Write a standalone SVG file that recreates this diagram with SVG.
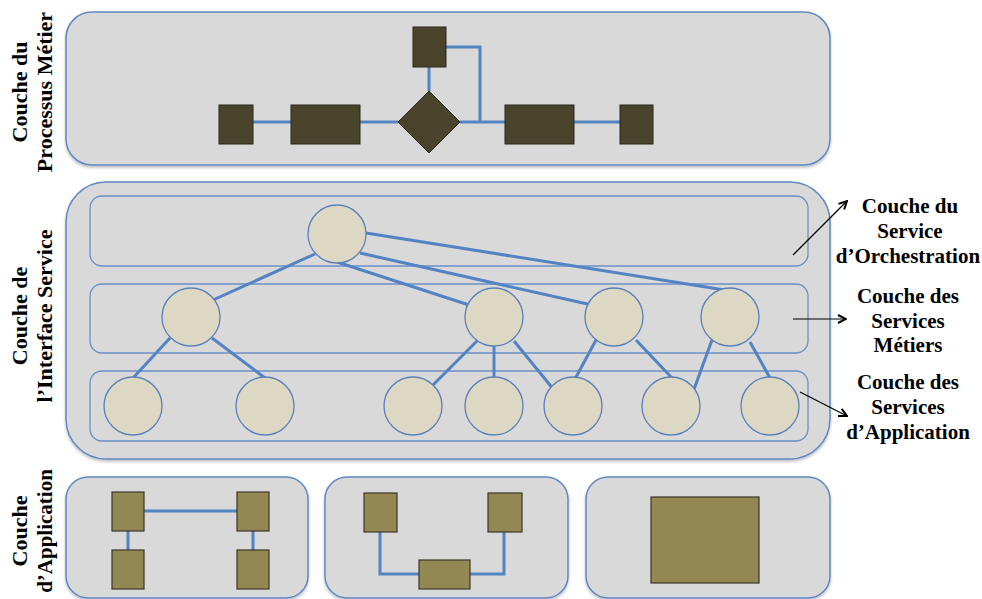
<svg xmlns="http://www.w3.org/2000/svg" width="982" height="599" viewBox="0 0 982 599">
<defs>
<style>
.panel{fill:#d9d9d9;stroke:#5f88c2;stroke-width:1.5}
.band{fill:none;stroke:#6b90c6;stroke-width:1.3}
.dark{fill:#4a432c;stroke:#2b2719;stroke-width:1}
.olive{fill:#938753;stroke:#3b3627;stroke-width:1.2}
.svc{fill:#ddd8c3;stroke:#5a80ba;stroke-width:1.3}
.link{fill:none;stroke:#5483c4;stroke-width:3}
.ptr{fill:none;stroke:#000;stroke-width:1.2}
.lbl{font-family:"Liberation Serif","Times New Roman",serif;font-weight:bold;font-size:21px;fill:#000;text-anchor:middle}
.side{font-family:"Liberation Serif","Times New Roman",serif;font-weight:bold;font-size:22px;fill:#000;text-anchor:middle}
</style>
<filter id="sh" x="-5%" y="-5%" width="110%" height="115%">
<feDropShadow dx="0" dy="2" stdDeviation="1.5" flood-color="#000" flood-opacity="0.25"/>
</filter>
<marker id="ah" viewBox="0 0 10 10" refX="9" refY="5" markerWidth="10" markerHeight="10" markerUnits="userSpaceOnUse" orient="auto">
<path d="M1,1 L9,5 L1,9" fill="none" stroke="#000" stroke-width="2"/>
</marker>
</defs>
<rect width="982" height="599" fill="#fff"/>

<!-- Side labels -->
<g id="label-processus">
<text class="side" transform="translate(27,92) rotate(-90)">Couche du</text>
<text class="side" transform="translate(52,92) rotate(-90)">Processus Métier</text>
</g>
<g id="label-interface">
<text class="side" transform="translate(27,316) rotate(-90)">Couche de</text>
<text class="side" transform="translate(52,316) rotate(-90)">l’Interface Service</text>
</g>
<g id="label-application">
<text class="side" transform="translate(27,531) rotate(-90)">Couche</text>
<text class="side" style="font-size:21px" transform="translate(52,531) rotate(-90)">d’Application</text>
</g>

<!-- Business process layer -->
<g id="panel-process">
<rect class="panel" filter="url(#sh)" x="66" y="12" width="764" height="153" rx="26"/>
</g>

<!-- Service interface layer -->
<g id="panel-interface">
<rect class="panel" filter="url(#sh)" x="66" y="182" width="764" height="277" rx="40"/>
<rect class="band" x="90" y="196" width="718" height="70" rx="12"/>
<rect class="band" x="90" y="284" width="718" height="69" rx="12"/>
<rect class="band" x="90" y="371" width="718" height="70" rx="12"/>
</g>

<!-- Application layer panels -->
<g id="panel-app1"><rect class="panel" filter="url(#sh)" x="66" y="477" width="242" height="121" rx="22"/></g>
<g id="panel-app2"><rect class="panel" filter="url(#sh)" x="325" y="477" width="243" height="121" rx="22"/></g>
<g id="panel-app3"><rect class="panel" filter="url(#sh)" x="586" y="477" width="244" height="121" rx="22"/></g>

<!-- Connectors -->
<g id="connectors">
<!-- process -->
<path class="link" d="M253,122 H291 M360,122 H398 M460,122 H505 M574,122 H620 M429,67 V91 M446,47 H480 V122"/>
<!-- orchestration to business -->
<path class="link" d="M315,254 L213,300"/>
<path class="link" d="M366,233 L731,291"/>
<path class="link" d="M360,253 L592,305"/>
<path class="link" d="M337,262 L469,305"/>
<!-- business to application -->
<path class="link" d="M170,338 L133,378"/>
<path class="link" d="M212,338 L265,378"/>
<path class="link" d="M478,340 L433,385"/>
<path class="link" d="M494,345 V378"/>
<path class="link" d="M514,341 L554,390"/>
<path class="link" d="M596,340 L575,379"/>
<path class="link" d="M636,340 L672,378"/>
<path class="link" d="M712,340 L693,392"/>
<path class="link" d="M750,342 L770,378"/>
<!-- application panels -->
<path class="link" d="M144,511 H237 M128,531 V550 M253,531 V550"/>
<path class="link" d="M380,532 V574 H419 M470,574 H504 V532"/>
<!-- pointer arrows -->
<path class="ptr" marker-end="url(#ah)" d="M793,255 L847,201"/>
<path class="ptr" marker-end="url(#ah)" d="M793,319 L846,319"/>
<path class="ptr" marker-end="url(#ah)" d="M800,392 L847,416"/>
</g>

<!-- Process nodes -->
<g id="p-start"><rect class="dark" x="219" y="105" width="34" height="39"/></g>
<g id="p-task1"><rect class="dark" x="291" y="105" width="69" height="39"/></g>
<g id="p-decision"><polygon class="dark" points="429,91 460,122 429,153 398,122"/></g>
<g id="p-top"><rect class="dark" x="413" y="27" width="33" height="40"/></g>
<g id="p-task2"><rect class="dark" x="505" y="105" width="69" height="39"/></g>
<g id="p-end"><rect class="dark" x="620" y="105" width="33" height="39"/></g>

<!-- Service nodes -->
<g id="s-orch"><circle class="svc" cx="337" cy="234" r="29"/></g>
<g id="s-b1"><circle class="svc" cx="191" cy="317" r="29"/></g>
<g id="s-b2"><circle class="svc" cx="494" cy="317" r="29"/></g>
<g id="s-b3"><circle class="svc" cx="614" cy="317" r="29"/></g>
<g id="s-b4"><circle class="svc" cx="730" cy="317" r="29"/></g>
<g id="s-a1"><circle class="svc" cx="133" cy="406" r="29"/></g>
<g id="s-a2"><circle class="svc" cx="265" cy="406" r="29"/></g>
<g id="s-a3"><circle class="svc" cx="413" cy="406" r="29"/></g>
<g id="s-a4"><circle class="svc" cx="494" cy="406" r="29"/></g>
<g id="s-a5"><circle class="svc" cx="573" cy="406" r="29"/></g>
<g id="s-a6"><circle class="svc" cx="671" cy="406" r="29"/></g>
<g id="s-a7"><circle class="svc" cx="770" cy="406" r="29"/></g>

<!-- Application nodes -->
<g id="a1-tl"><rect class="olive" x="112" y="492" width="32" height="39"/></g>
<g id="a1-tr"><rect class="olive" x="237" y="492" width="32" height="39"/></g>
<g id="a1-bl"><rect class="olive" x="112" y="550" width="32" height="39"/></g>
<g id="a1-br"><rect class="olive" x="237" y="550" width="32" height="39"/></g>
<g id="a2-l"><rect class="olive" x="364" y="493" width="33" height="39"/></g>
<g id="a2-r"><rect class="olive" x="488" y="493" width="34" height="39"/></g>
<g id="a2-b"><rect class="olive" x="419" y="560" width="51" height="29"/></g>
<g id="a3"><rect class="olive" x="651" y="497" width="108" height="86"/></g>

<!-- Right labels -->
<g id="label-orchestration">
<text class="lbl" x="910" y="213">Couche du</text>
<text class="lbl" x="910" y="238">Service</text>
<text class="lbl" x="908" y="263">d’Orchestration</text>
</g>
<g id="label-metiers">
<text class="lbl" x="908" y="303">Couche des</text>
<text class="lbl" x="908" y="328">Services</text>
<text class="lbl" x="908" y="352">Métiers</text>
</g>
<g id="label-app-services">
<text class="lbl" x="908" y="389">Couche des</text>
<text class="lbl" x="908" y="414">Services</text>
<text class="lbl" x="908" y="439">d’Application</text>
</g>
</svg>
